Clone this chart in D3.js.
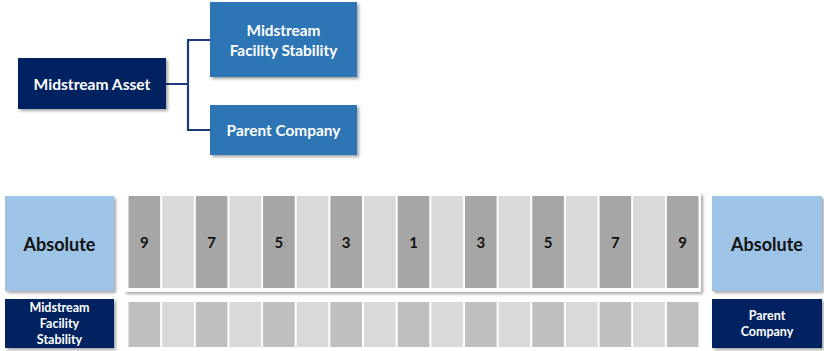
<!DOCTYPE html>
<html>
<head>
<meta charset="utf-8">
<script src="https://cdn.jsdelivr.net/npm/d3@7"></script>
<style>
  html, body { margin: 0; padding: 0; background: #ffffff; }
  svg { display: block; }
  text { font-family: Lato, "Open Sans", sans-serif; font-weight: 700; }
</style>
</head>
<body>
<svg id="chart" width="824" height="351"></svg>
<script>
// Hierarchy: root asset and its two rating components
const rootLabel = ["Midstream Asset"];
const childLabels = [["Midstream", "Facility Stability"], ["Parent Company"]];

// Rating scale: 17 cells, labels on every other cell
const scaleLabels = ["9", "", "7", "", "5", "", "3", "", "1", "", "3", "", "5", "", "7", "", "9"];
const endLabel = "Absolute";
const leftRowLabel = ["Midstream", "Facility", "Stability"];
const rightRowLabel = ["Parent", "Company"];

const svg = d3.select("#chart");
const defs = svg.append("defs");
defs.append("filter").attr("id", "shadow")
  .attr("x", "-10%").attr("y", "-10%").attr("width", "130%").attr("height", "140%")
  .append("feDropShadow")
  .attr("dx", 2).attr("dy", 2).attr("stdDeviation", 1.6)
  .attr("flood-color", "#000").attr("flood-opacity", 0.35);

const NAVY = "#002060", BLUE = "#2e75b6", LIGHTBLUE = "#9dc3e6";

function box(x, y, w, h, fill, lines, opts) {
  const g = svg.append("g");
  g.append("rect").attr("x", x).attr("y", y).attr("width", w).attr("height", h)
    .attr("fill", fill).attr("filter", "url(#shadow)");
  const lh = opts.lineHeight;
  const cy = y + h / 2;
  lines.forEach((t, i) => {
    g.append("text")
      .attr("x", x + w / 2)
      .attr("y", cy + (i - (lines.length - 1) / 2) * lh)
      .attr("text-anchor", "middle")
      .attr("dominant-baseline", "central")
      .attr("font-size", opts.size)
      .attr("fill", opts.color)
      .text(t);
  });
}

// ---- Tree connector ----
svg.append("path")
  .attr("d", "M166,84 H188 M188,40 V130 M187,40 H210 M187,130 H210")
  .attr("fill", "none").attr("stroke", "#1f3a7a").attr("stroke-width", 2.2);

box(18, 58, 148, 51, NAVY, rootLabel, { size: 15.6, lineHeight: 18, color: "#fff" });
box(210, 2, 147, 75, BLUE, childLabels[0], { size: 15.4, lineHeight: 20, color: "#fff" });
box(210, 105, 147, 50, BLUE, childLabels[1], { size: 15.4, lineHeight: 18, color: "#fff" });

// ---- Scale ----
const idx = d3.range(scaleLabels.length);
const x = d3.scaleBand().domain(idx).range([127.5, 699.5]).paddingInner(0.06).paddingOuter(0.03);

// white panel behind the upper scale row
svg.append("rect").attr("x", 124).attr("y", 193).attr("width", 577).attr("height", 99)
  .attr("fill", "#fff").attr("filter", "url(#shadow)");

const topY = 196, topH = 92;
svg.append("g").selectAll("rect").data(idx).join("rect")
  .attr("x", d => x(d)).attr("y", topY)
  .attr("width", x.bandwidth()).attr("height", topH)
  .attr("fill", d => d % 2 === 0 ? "#a6a6a6" : "#d9d9d9");

svg.append("g").selectAll("text").data(idx.filter(d => scaleLabels[d] !== "")).join("text")
  .attr("x", d => x(d) + x.bandwidth() / 2)
  .attr("y", topY + topH / 2)
  .attr("text-anchor", "middle").attr("dominant-baseline", "central")
  .attr("font-size", 15).attr("fill", "#111")
  .text(d => scaleLabels[d]);

const botY = 302, botH = 45;
svg.append("g").selectAll("rect").data(idx).join("rect")
  .attr("x", d => x(d)).attr("y", botY)
  .attr("width", x.bandwidth()).attr("height", botH)
  .attr("fill", d => d % 2 === 0 ? "#bfbfbf" : "#d9d9d9");

// end caps
box(5, 196, 109, 95, LIGHTBLUE, [endLabel], { size: 18, lineHeight: 20, color: "#111" });
box(712, 196, 110, 95, LIGHTBLUE, [endLabel], { size: 18, lineHeight: 20, color: "#111" });
box(5, 299, 109, 49, NAVY, leftRowLabel, { size: 12.5, lineHeight: 15.7, color: "#fff" });
box(712, 299, 110, 49, NAVY, rightRowLabel, { size: 12.5, lineHeight: 15.5, color: "#fff" });
</script>
</body>
</html>
